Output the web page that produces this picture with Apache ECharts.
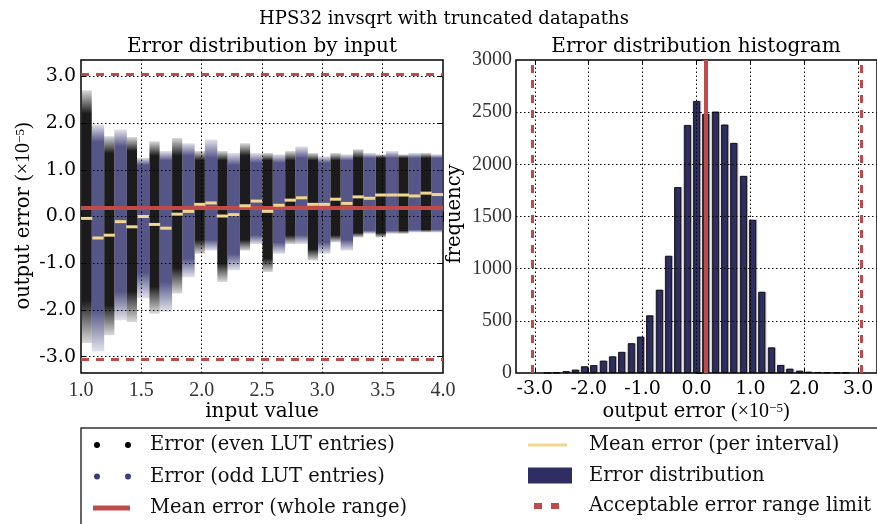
<!DOCTYPE html>
<html><head><meta charset="utf-8">
<script src="https://cdn.jsdelivr.net/npm/echarts@6/dist/echarts.min.js"></script>
<style>html,body{margin:0;padding:0;background:#fff}#c{width:877px;height:524px}</style>
</head><body><div id="c"></div>
<script>
// ---- data ----
const lutEdges = [1.0,1.09375,1.1875,1.28125,1.375,1.46875,1.5625,1.65625,1.75,1.84375,1.9375,2.03125,2.125,2.21875,2.3125,2.40625,2.5,2.59375,2.6875,2.78125,2.875,2.96875,3.0625,3.15625,3.25,3.34375,3.4375,3.53125,3.625,3.71875,3.8125,3.90625,4.0];
const colMax = [2.70,1.97,1.72,1.86,1.70,1.26,1.61,1.40,1.68,1.57,1.40,1.65,1.40,1.36,1.57,1.36,1.36,1.33,1.40,1.50,1.36,1.29,1.36,1.33,1.44,1.36,1.33,1.40,1.33,1.36,1.36,1.33];
const colDenseTop = [2.2,1.6,1.35,1.5,1.4,1.1,1.3,1.2,1.3,1.3,1.2,1.25,1.2,1.1,1.3,1.15,1.2,1.15,1.2,1.25,1.2,1.15,1.2,1.2,1.25,1.25,1.25,1.25,1.25,1.25,1.25,1.25];
const colDenseBottom = [-1.8,-2.0,-1.9,-1.6,-1.6,-1.2,-1.5,-1.4,-1.1,-0.9,-0.5,-0.5,-1.0,-0.8,-0.5,-0.4,-0.9,-0.55,-0.4,-0.4,-0.7,-0.55,-0.4,-0.5,-0.35,-0.3,-0.35,-0.3,-0.3,-0.28,-0.28,-0.28];
const colMin = [-2.71,-2.89,-2.54,-2.22,-2.26,-1.75,-2.08,-2.04,-1.65,-1.30,-0.80,-0.73,-1.40,-1.15,-0.73,-0.59,-1.19,-0.80,-0.59,-0.59,-0.94,-0.80,-0.55,-0.73,-0.45,-0.37,-0.45,-0.37,-0.37,-0.34,-0.34,-0.34];
const intervalMean = [-0.04,-0.46,-0.40,-0.11,-0.22,0.00,-0.17,-0.25,0.05,0.11,0.26,0.29,0.01,0.04,0.23,0.33,0.11,0.24,0.35,0.40,0.26,0.26,0.37,0.28,0.42,0.39,0.46,0.46,0.46,0.44,0.50,0.47];
const meanWhole = 0.18;
const errorLimit = 3.0518;

const binCenters = [-2.77,-2.60,-2.42,-2.25,-2.08,-1.91,-1.73,-1.56,-1.39,-1.21,-1.04,-0.87,-0.69,-0.52,-0.35,-0.17,0.0,0.17,0.35,0.52,0.69,0.87,1.04,1.21,1.39,1.56,1.73,1.91,2.08,2.25,2.42,2.60,2.77];
const binCounts = [1,4,17,32,64,75,118,159,202,285,348,552,798,1123,1781,2377,2607,2483,2505,2381,2205,1889,1468,778,245,77,41,22,12,9,6,4,3];

const xTicksLeft = [1.0,1.5,2.0,2.5,3.0,3.5,4.0];
const yTicksLeft = [-3,-2,-1,0,1,2,3];
const xTicksRight = [-3,-2,-1,0,1,2,3];
const yTicksRight = [0,500,1000,1500,2000,2500,3000];
const errAxisMin = -3.35, errAxisMax = 3.35;

const names = {
  even: 'Error (even LUT entries)',
  odd: 'Error (odd LUT entries)',
  meanAll: 'Mean error (whole range)',
  meanInt: 'Mean error (per interval)',
  dist: 'Error distribution',
  limit: 'Acceptable error range limit'
};

// ---- build ----
const SERIF = '"DejaVu Serif", serif';
const LSERIF = '"Liberation Serif", serif';
const RED = '#bf4a4a', YEL = '#f0d68e', NAVY = '#2e2e63', NAVYPT = [62,62,120], BLACKPT = [8,8,8];

function colData(parity) {
  const out = [];
  for (let i = 0; i < colMax.length; i++) {
    if (i % 2 !== parity) continue;
    out.push([lutEdges[i], lutEdges[i+1], colMin[i], colDenseBottom[i], colDenseTop[i], colMax[i]]);
  }
  return out;
}
function colRender(widthFrac, rgb, aMax, aMin) {
  const c = a => `rgba(${rgb[0]},${rgb[1]},${rgb[2]},${a})`;
  return function (params, api) {
    const x0 = api.value(0), x1 = api.value(1);
    const lo = api.value(2), loD = api.value(3), hiD = api.value(4), hi = api.value(5);
    const pTop = api.coord([x0, hi]), pBot = api.coord([x1, lo]);
    const pHiD = api.coord([x0, hiD]), pLoD = api.coord([x0, loD]);
    const w = pBot[0] - pTop[0], cx = (pTop[0] + pBot[0]) / 2, ww = w * widthFrac;
    const h = pBot[1] - pTop[1];
    const o1 = Math.max(0, Math.min(1, (pHiD[1] - pTop[1]) / h));
    const o2 = Math.max(o1, Math.min(1, (pLoD[1] - pTop[1]) / h));
    return {
      type: 'rect',
      shape: { x: cx - ww / 2, y: pTop[1], width: ww, height: h },
      style: { fill: { type: 'linear', x: 0, y: 0, x2: 0, y2: 1, colorStops: [
        { offset: 0, color: c(aMin) }, { offset: o1, color: c(aMax) },
        { offset: o2, color: c(aMax) }, { offset: 1, color: c(aMin) }] } }
    };
  };
}
const meanIntData = intervalMean.map((m, i) => [lutEdges[i], lutEdges[i+1], m]);

const gridLine = { color: '#000', type: [1.5, 2.5], width: 1 };
const tickStyle = { inside: true, length: 5, lineStyle: { color: '#000', width: 1 } };

const option = {
  animation: false,
  backgroundColor: '#fff',
  grid: [
    { left: 81, top: 60, width: 362, height: 313, show: true, borderColor: '#000', borderWidth: 1.5, backgroundColor: 'transparent', containLabel: false },
    { left: 516, top: 60, width: 362, height: 313, show: true, borderColor: '#000', borderWidth: 1.5, backgroundColor: 'transparent', containLabel: false }
  ],
  xAxis: [
    { type: 'value', gridIndex: 0, min: 1, max: 4, interval: 0.5, axisLine: { show: false }, splitLine: { show: false },
      axisTick: tickStyle,
      axisLabel: { formatter: v => v.toFixed(1), fontFamily: LSERIF, fontSize: 20, color: '#333', margin: 8 } },
    { type: 'value', gridIndex: 1, min: errAxisMin, max: errAxisMax, axisLine: { show: false }, splitLine: { show: false },
      axisTick: Object.assign({ customValues: xTicksRight }, tickStyle),
      axisLabel: { customValues: xTicksRight, formatter: v => v.toFixed(1), fontFamily: SERIF, fontSize: 19, color: '#000', margin: 7 } },
    { type: 'value', gridIndex: 0, position: 'top', min: 1, max: 4, interval: 0.5, axisLine: { show: false }, splitLine: { show: false },
      axisTick: tickStyle, axisLabel: { show: false } },
    { type: 'value', gridIndex: 1, position: 'top', min: errAxisMin, max: errAxisMax, axisLine: { show: false }, splitLine: { show: false },
      axisTick: Object.assign({ customValues: xTicksRight }, tickStyle), axisLabel: { show: false, customValues: xTicksRight } }
  ],
  yAxis: [
    { type: 'value', gridIndex: 0, min: errAxisMin, max: errAxisMax, axisLine: { show: false }, splitLine: { show: false },
      axisTick: Object.assign({ customValues: yTicksLeft }, tickStyle),
      axisLabel: { customValues: yTicksLeft, formatter: v => v.toFixed(1), fontFamily: SERIF, fontSize: 19, color: '#000', margin: 5 } },
    { type: 'value', gridIndex: 1, min: 0, max: 3000, interval: 500, axisLine: { show: false }, splitLine: { show: false },
      axisTick: tickStyle,
      axisLabel: { formatter: v => String(v), fontFamily: LSERIF, fontSize: 20, color: '#333', margin: 4 } },
    { type: 'value', gridIndex: 0, position: 'right', min: errAxisMin, max: errAxisMax, axisLine: { show: false }, splitLine: { show: false },
      axisTick: Object.assign({ customValues: yTicksLeft }, tickStyle), axisLabel: { show: false, customValues: yTicksLeft } }
  ],
  legend: [
    { left: 93, top: 434, orient: 'vertical', padding: 0, itemWidth: 52, itemHeight: 14, itemGap: 9.5, selectedMode: false,
      textStyle: { fontFamily: SERIF, fontSize: 19.5, color: '#111', lineHeight: 22 },
      data: [
        { name: names.even, icon: 'path://M0,0 M52,14 M1,7 A3,3 0 1 0 7,7 A3,3 0 1 0 1,7 Z M32,7 A3,3 0 1 0 38,7 A3,3 0 1 0 32,7 Z', itemStyle: { color: '#000', borderWidth: 0 } },
        { name: names.odd, icon: 'path://M0,0 M52,14 M1,7 A3,3 0 1 0 7,7 A3,3 0 1 0 1,7 Z M32,7 A3,3 0 1 0 38,7 A3,3 0 1 0 32,7 Z', itemStyle: { color: '#3c3c78', borderWidth: 0 } },
        { name: names.meanAll, icon: 'path://M0,0 M52,14 M0,4.5 L37,4.5 L37,9.5 L0,9.5 Z', itemStyle: { color: RED, borderWidth: 0 } }
      ] },
    { left: 528, top: 434, orient: 'vertical', padding: 0, itemWidth: 56, itemHeight: 16, itemGap: 8.5, selectedMode: false,
      textStyle: { fontFamily: SERIF, fontSize: 19.5, color: '#111', lineHeight: 22 },
      data: [
        { name: names.meanInt, icon: 'path://M0,0 M56,16 M0,6.5 L39,6.5 L39,9.5 L0,9.5 Z', itemStyle: { color: YEL, borderWidth: 0 } },
        { name: names.dist, icon: 'path://M0,0 M56,16 M0,0 L44,0 L44,16 L0,16 Z', itemStyle: { color: NAVY, borderWidth: 0 } },
        { name: names.limit, icon: 'path://M0,0 M56,16 M6,5 L14,5 L14,11 L6,11 Z M23,5 L31,5 L31,11 L23,11 Z', itemStyle: { color: RED, borderWidth: 0 } }
      ] }
  ],
  graphic: [
    { type: 'rect', shape: { x: 81, y: 428, width: 830, height: 120 }, style: { fill: 'none', stroke: '#333', lineWidth: 1.5 }, z: 100 },
    { type: 'text', x: 444, y: 19, style: { text: 'HPS32 invsqrt with truncated datapaths', font: '18px ' + SERIF, fill: '#000', align: 'center', verticalAlign: 'middle' } },
    { type: 'text', x: 262, y: 47, style: { text: 'Error distribution by input', font: '20px ' + SERIF, fill: '#000', align: 'center', verticalAlign: 'middle' } },
    { type: 'text', x: 696, y: 47, style: { text: 'Error distribution histogram', font: '20px ' + SERIF, fill: '#000', align: 'center', verticalAlign: 'middle' } },
    { type: 'text', x: 262, y: 412, style: { text: 'input value', font: '20px ' + SERIF, fill: '#000', align: 'center', verticalAlign: 'middle' } },
    { type: 'text', x: 696, y: 412, style: { text: '{a|output error }{b|(×10}{s|−5}{b|)}', align: 'center', verticalAlign: 'middle',
        rich: { a: { fontFamily: SERIF, fontSize: 19.5, color: '#000' }, b: { fontFamily: LSERIF, fontSize: 20, color: '#444' }, s: { fontFamily: LSERIF, fontSize: 13, color: '#444', verticalAlign: 'top' } } } },
    { type: 'text', x: 455, y: 214, rotation: Math.PI / 2, style: { text: 'frequency', font: '19.5px ' + SERIF, fill: '#000', align: 'center', verticalAlign: 'middle' } },
    { type: 'text', x: 24, y: 216, rotation: Math.PI / 2, style: { text: '{a|output error }{b|(×10}{s|−5}{b|)}', align: 'center', verticalAlign: 'middle',
        rich: { a: { fontFamily: SERIF, fontSize: 19.5, color: '#000' }, b: { fontFamily: LSERIF, fontSize: 20, color: '#444' }, s: { fontFamily: LSERIF, fontSize: 13, color: '#444', verticalAlign: 'top' } } } }
  ],
  series: [
    { name: names.odd, type: 'custom', xAxisIndex: 0, yAxisIndex: 0, clip: true, z: 2,
      renderItem: colRender(1.1, NAVYPT, 0.88, 0.15), encode: { x: [0, 1], y: [2, 5] }, data: colData(1), itemStyle: { color: '#3c3c78' } },
    { name: names.even, type: 'custom', xAxisIndex: 0, yAxisIndex: 0, clip: true, z: 3,
      renderItem: colRender(0.9, BLACKPT, 0.92, 0.15), encode: { x: [0, 1], y: [2, 5] }, data: colData(0), itemStyle: { color: '#000' } },
    { name: 'grid-left', type: 'line', xAxisIndex: 0, yAxisIndex: 0, data: [], z: 4,
      markLine: { silent: true, symbol: ['none', 'none'], label: { show: false }, lineStyle: gridLine, animation: false,
        data: yTicksLeft.map(v => ({ yAxis: v })).concat(xTicksLeft.slice(1, -1).map(v => ({ xAxis: v }))) } },
    { name: names.meanAll, type: 'line', xAxisIndex: 0, yAxisIndex: 0, data: [], z: 6, itemStyle: { color: RED },
      markLine: { silent: true, symbol: ['none', 'none'], label: { show: false }, lineStyle: { color: RED, width: 4, type: 'solid' }, data: [{ yAxis: meanWhole }] } },
    { name: names.meanInt, type: 'custom', xAxisIndex: 0, yAxisIndex: 0, clip: true, z: 7, itemStyle: { color: YEL },
      encode: { x: [0, 1], y: 2 }, data: meanIntData,
      renderItem: function (params, api) {
        const a = api.coord([api.value(0), api.value(2)]), b = api.coord([api.value(1), api.value(2)]);
        return { type: 'line', shape: { x1: a[0], y1: a[1], x2: b[0], y2: b[1] }, style: { stroke: YEL, lineWidth: 3 } };
      } },
    { name: names.limit, type: 'line', xAxisIndex: 0, yAxisIndex: 0, data: [], z: 6, itemStyle: { color: RED },
      markLine: { silent: true, symbol: ['none', 'none'], label: { show: false }, lineStyle: { color: RED, width: 3, type: [8, 7] },
        data: [{ yAxis: errorLimit }, { yAxis: -errorLimit }] } },
    { name: 'grid-right', type: 'line', xAxisIndex: 1, yAxisIndex: 1, data: [], z: 1,
      markLine: { silent: true, symbol: ['none', 'none'], label: { show: false }, lineStyle: gridLine,
        data: yTicksRight.slice(1, -1).map(v => ({ yAxis: v })).concat(xTicksRight.map(v => ({ xAxis: v }))) } },
    { name: names.dist, type: 'bar', xAxisIndex: 1, yAxisIndex: 1, z: 3, barWidth: 7,
      itemStyle: { color: NAVY, borderColor: '#000', borderWidth: 0.8, shadowColor: 'rgba(0,0,0,0.25)', shadowOffsetX: 1.2, shadowBlur: 0 },
      data: binCenters.map((c, i) => [c, binCounts[i]]) },
    { name: names.meanAll, type: 'line', xAxisIndex: 1, yAxisIndex: 1, data: [], z: 6, itemStyle: { color: RED },
      markLine: { silent: true, symbol: ['none', 'none'], label: { show: false }, lineStyle: { color: RED, width: 4, type: 'solid' }, data: [{ xAxis: meanWhole }] } },
    { name: names.limit, type: 'line', xAxisIndex: 1, yAxisIndex: 1, data: [], z: 6, itemStyle: { color: RED },
      markLine: { silent: true, symbol: ['none', 'none'], label: { show: false }, lineStyle: { color: RED, width: 3, type: [8, 7] },
        data: [{ xAxis: errorLimit }, { xAxis: -errorLimit }] } }
  ]
};
const chart = echarts.init(document.getElementById('c'), null, { renderer: 'canvas' });
chart.setOption(option);
</script></body></html>
